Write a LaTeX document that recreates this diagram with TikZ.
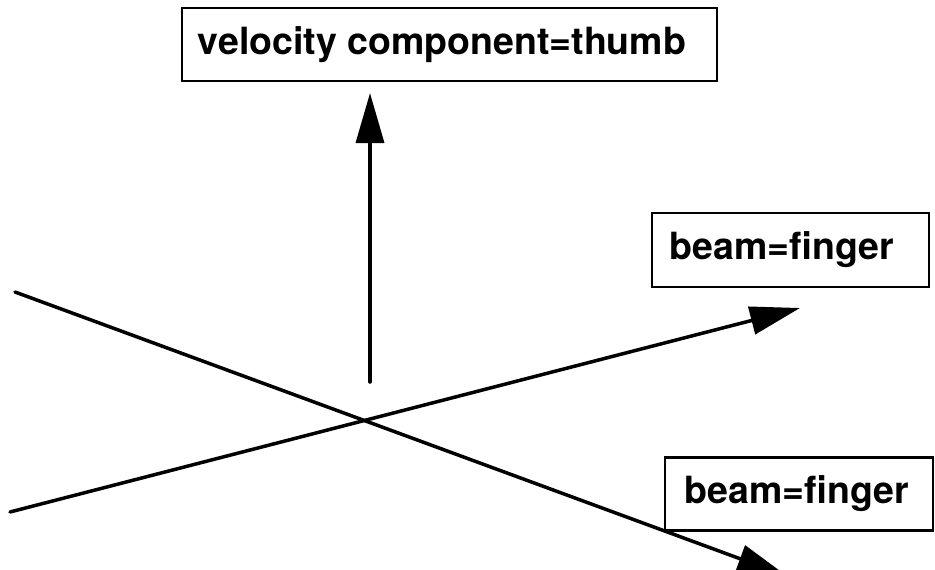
\documentclass[tikz,border=0pt]{standalone}
\usepackage{fontspec}
\setmainfont{TeX Gyre Heros}
\usetikzlibrary{arrows.meta}
\tikzset{
  label font/.style={font=\bfseries\fontsize{37.5}{44}\selectfont},
  label box/.style={draw, line width=2.5pt, inner sep=0pt},
  ray/.style={line width=3.5pt, line cap=round},
  ray head/.style={-{Triangle[length=50pt,width=28pt]}}
}
\begin{document}
\begin{tikzpicture}[x=1pt,y=-1pt]
  \useasboundingbox (0,0) rectangle (935,570);
  % labels
  \node[label box, minimum width=535pt, minimum height=73pt] (thumb) at (449.5,44.5) {};
  \node[label font] (thumbtext) at (442,44.5) {velocity component=thumb};
  \node[label box, minimum width=277pt, minimum height=74pt] (finger1) at (790.5,250) {};
  \node[label font] (finger1text) at (782,250) {beam=finger};
  \node[label box, minimum width=268pt, minimum height=73pt] (finger2) at (799,494) {};
  \node[label font] (finger2text) at (797,494) {beam=finger};
  % ray end points
  \coordinate (vbase) at (370,382);
  \coordinate (vtip) at (370,93);
  \coordinate (b1start) at (10,512);
  \coordinate (b1tip) at (800,308);
  \coordinate (b2start) at (15,292);
  \coordinate (b2tip) at (787,576);
  % rays
  \draw[ray, ray head] (vbase) -- (vtip);
  \draw[ray, ray head] (b1start) -- (b1tip);
  \draw[ray, ray head] (b2start) -- (b2tip);
\end{tikzpicture}
\end{document}
